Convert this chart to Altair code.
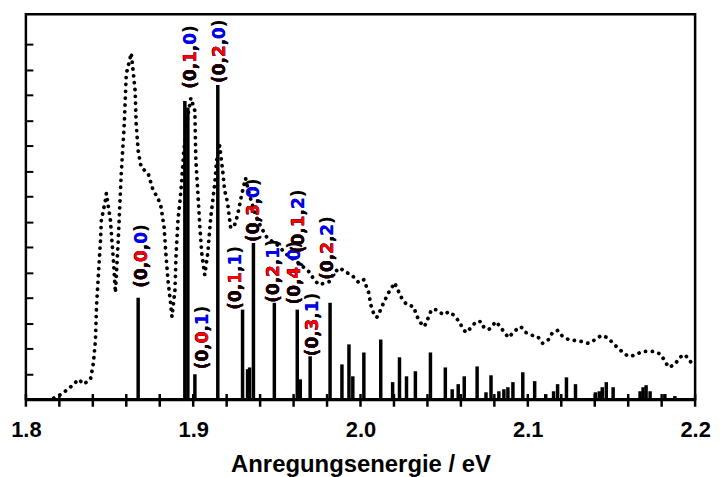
import altair as alt
import pandas as pd

# ---- dotted absorption spectrum (eV, intensity) ----
spec_ev = [1.8166, 1.8214, 1.8273, 1.8315, 1.8345, 1.8386, 1.8404, 1.8416, 1.8422, 1.8434,
           1.8446, 1.8451, 1.8475, 1.8481, 1.8505, 1.8523, 1.8535, 1.8552, 1.8570, 1.8588,
           1.8600, 1.8630, 1.8653, 1.8659, 1.8671, 1.8689, 1.8731, 1.8760, 1.8790, 1.8808,
           1.8826, 1.8838, 1.8849, 1.8867, 1.8873, 1.8891, 1.8897, 1.8909, 1.8927, 1.8944,
           1.8968, 1.8986, 1.9010, 1.9016, 1.9028, 1.9040, 1.9051, 1.9069, 1.9087, 1.9105,
           1.9129, 1.9140, 1.9158, 1.9176, 1.9188, 1.9206, 1.9224, 1.9247, 1.9265, 1.9289,
           1.9313, 1.9337, 1.9372, 1.9408, 1.9443, 1.9503, 1.9562, 1.9622, 1.9693, 1.9723,
           1.9752, 1.9812, 1.9847, 1.9877, 1.9907, 1.9948, 1.9990, 2.0020, 2.0049, 2.0061,
           2.0079, 2.0097, 2.0115, 2.0138, 2.0168, 2.0204, 2.0228, 2.0245, 2.0275, 2.0317,
           2.0334, 2.0352, 2.0382, 2.0406, 2.0424, 2.0453, 2.0495, 2.0530, 2.0554, 2.0590,
           2.0614, 2.0631, 2.0661, 2.0691, 2.0721, 2.0738, 2.0768, 2.0810, 2.0839, 2.0869,
           2.0887, 2.0917, 2.0958, 2.0988, 2.1029, 2.1059, 2.1089, 2.1124, 2.1148, 2.1178,
           2.1208, 2.1243, 2.1285, 2.1326, 2.1362, 2.1404, 2.1439, 2.1475, 2.1505, 2.1534,
           2.1570, 2.1600, 2.1641, 2.1683, 2.1718, 2.1760, 2.1796, 2.1819, 2.1843, 2.1879,
           2.1909, 2.1938, 2.1968, 2.1992]
spec_int = [0.04, 0.20, 0.51, 0.78, 0.59, 0.78, 1.45, 2.35, 3.65, 4.98,
            6.27, 7.06, 7.84, 8.12, 7.06, 5.49, 4.20, 6.27, 8.90, 10.86,
            12.82, 13.65, 12.16, 10.86, 9.80, 9.14, 8.90, 8.24, 7.92, 7.57,
            6.78, 5.61, 4.71, 3.65, 3.25, 4.31, 5.61, 7.06, 8.24, 9.80,
            11.18, 11.88, 11.37, 9.41, 8.12, 6.78, 5.76, 4.90, 5.76, 7.18,
            8.51, 9.41, 10.00, 9.02, 8.24, 7.73, 6.75, 6.86, 7.25, 8.04,
            8.71, 8.04, 7.25, 6.75, 6.35, 6.08, 5.69, 5.41, 5.02, 4.71,
            4.51, 4.63, 5.02, 5.18, 5.02, 4.90, 4.59, 4.71, 4.20, 3.73,
            3.37, 3.22, 3.45, 3.80, 4.20, 4.59, 4.24, 4.00, 3.73, 3.65,
            3.33, 3.06, 2.86, 3.22, 3.53, 3.53, 3.33, 3.45, 3.33, 3.06,
            2.75, 2.63, 2.82, 3.06, 3.06, 2.82, 2.75, 3.06, 2.82, 2.55,
            2.43, 2.67, 2.86, 2.63, 2.51, 2.47, 2.20, 2.35, 2.63, 2.71,
            2.47, 2.35, 2.31, 2.27, 2.20, 2.35, 2.51, 2.43, 2.24, 2.04,
            1.84, 1.69, 1.73, 1.88, 1.88, 1.88, 1.76, 1.49, 1.25, 1.37,
            1.65, 1.76, 1.53, 1.25]

# ---- calculated stick spectrum ----
stick_ev = [1.8671, 1.8950, 1.8968, 1.9010, 1.9147, 1.9295, 1.9325, 1.9337, 1.9360, 1.9485,
            1.9622, 1.9640, 1.9699, 1.9818, 1.9889, 1.9931, 1.9954, 2.0020, 2.0121, 2.0192,
            2.0233, 2.0275, 2.0328, 2.0418, 2.0507, 2.0548, 2.0584, 2.0620, 2.0697, 2.0750,
            2.0780, 2.0827, 2.0857, 2.0881, 2.0911, 2.0970, 2.1041, 2.1107, 2.1154, 2.1178,
            2.1231, 2.1285, 2.1404, 2.1427, 2.1445, 2.1469, 2.1510, 2.1671, 2.1689, 2.1707,
            2.1731, 2.1819, 2.1879]
stick_int = [4.00, 11.76, 11.50, 0.98, 12.39, 3.53, 1.18, 1.25, 6.16, 3.80,
             3.53, 0.78, 1.69, 3.80, 1.37, 2.16, 0.90, 1.84, 2.35, 0.67,
             1.65, 0.90, 1.10, 1.84, 1.25, 0.39, 0.59, 0.90, 1.29, 0.27,
             0.94, 0.31, 0.39, 0.47, 0.67, 1.06, 0.71, 0.20, 0.31, 0.59,
             0.86, 0.59, 0.27, 0.31, 0.47, 0.67, 0.47, 0.31, 0.47, 0.55,
             0.31, 0.20, 0.12]

# ---- vibronic assignments ----
label_text = ["(0,0,0)", "(0,1,0)", "(0,2,0)", "(0,0,1)", "(0,1,1)", "(0,3,0)",
              "(0,2,1)", "(0,4,0)", "(0,1,2)", "(0,3,1)", "(0,2,2)"]
label_ev = [1.8695, 1.8986, 1.9158, 1.9057, 1.9253, 1.9366,
            1.9485, 1.9610, 1.9634, 1.9717, 1.9806]
label_int = [4.39, 12.24, 12.47, 1.18, 3.53, 6.20,
             3.80, 3.73, 5.76, 1.69, 4.71]

x_ticks = [1.80, 1.82, 1.84, 1.86, 1.88, 1.90, 1.92, 1.94, 1.96, 1.98, 2.00,
           2.02, 2.04, 2.06, 2.08, 2.10, 2.12, 2.14, 2.16, 2.18, 2.20]
y_ticks = [1, 2, 3, 4, 5, 6, 7, 8, 9, 10, 11, 12, 13, 14]

spec = pd.DataFrame({"ev": spec_ev, "i": spec_int})
sticks = pd.DataFrame({"ev": stick_ev, "i": stick_int})
ticks = pd.DataFrame({"ev": x_ticks})
labels = pd.DataFrame({"ev": label_ev, "i": label_int, "t": label_text})
labels["p6"] = labels["t"].str[:6]
labels["p5"] = labels["t"].str[:5]
labels["p4"] = labels["t"].str[:4]
labels["p3"] = labels["t"].str[:3]

W, H = 673, 387
xs = alt.Scale(domain=[1.8, 2.2], nice=False, zero=False)
ys = alt.Scale(domain=[0, 15.18], nice=False, zero=True)

x_axis = alt.Axis(
    values=x_ticks,
    labelExpr="(abs(datum.value*10 - round(datum.value*10)) < 0.001) ? format(datum.value, '.1f') : ''",
    title="Anregungsenergie / eV",
    ticks=False, labelOverlap=False, labelFlush=False, labelBound=False,
    grid=False,
)
y_axis = alt.Axis(values=y_ticks, labels=False, title=None, domain=False,
                  ticks=True, tickSize=7, tickWidth=2, tickColor="black",
                  offset=-7, grid=False)

X = alt.X("ev:Q", scale=xs, axis=x_axis)
Y = alt.Y("i:Q", scale=ys, axis=y_axis)

line = alt.Chart(spec).mark_line(
    color="black", strokeWidth=3.8, strokeDash=[0.1, 6.8], strokeCap="round"
).encode(x=X, y=Y)

rules = alt.Chart(sticks).mark_rule(color="black", strokeWidth=3.5).encode(
    x=X, y=Y, y2=alt.datum(0)
)

# tick marks on the energy axis
xticks = alt.Chart(ticks).mark_rule(color="black", strokeWidth=2.5).encode(
    x=X, y=alt.Y(datum=0.2, scale=ys, axis=y_axis), y2=alt.datum(-0.3)
)

def txt(field, color):
    return alt.Chart(labels).mark_text(
        angle=270, align="left", baseline="middle", font="DejaVu Sans",
        fontWeight="bold", fontSize=17, color=color
    ).encode(x=X, y=Y, text=alt.Text(f"{field}:N"))

texts = [txt("t", "black"), txt("p6", "#0000ff"), txt("p5", "black"),
         txt("p4", "#ff0000"), txt("p3", "black")]

chart = alt.layer(line, rules, xticks, *texts).properties(
    width=W, height=H,
    padding={"left": 2, "top": 5, "right": 5, "bottom": 2},
    background="white",
).configure_view(
    stroke="black", strokeWidth=2.5
).configure_axisX(
    domainWidth=3.5, domainColor="black",
    labelFont="Liberation Sans", labelFontSize=22, labelFontWeight="bold", labelColor="black",
    labelPadding=21,
    titleFont="Liberation Sans", titleFontSize=24, titleFontWeight="bold", titleColor="black",
    titlePadding=12,
)

chart.save("out.html", embed_options={"renderer": "svg", "actions": False})
